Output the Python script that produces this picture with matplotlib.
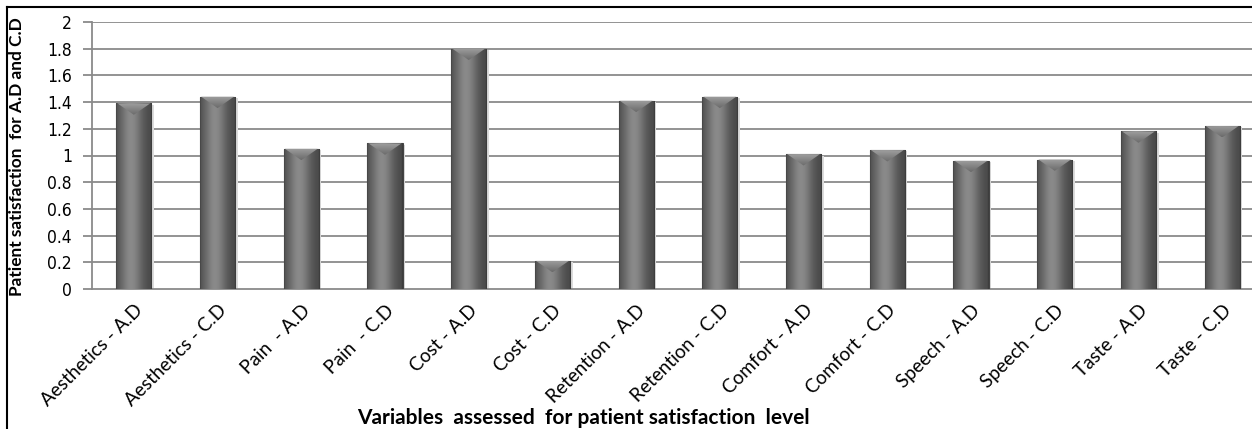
import numpy as np
import matplotlib
matplotlib.use("Agg")
import matplotlib.pyplot as plt
from matplotlib.patches import Polygon, Rectangle

categories = [
    "Aesthetics - A.D", "Aesthetics - C.D", "Pain  - A.D", "Pain  - C.D",
    "Cost - A.D", "Cost - C.D", "Retention - A.D", "Retention - C.D",
    "Comfort - A.D", "Comfort - C.D", "Speech - A.D", "Speech - C.D",
    "Taste - A.D", "Taste - C.D",
]
satisfaction = [1.39, 1.44, 1.05, 1.09, 1.80, 0.21, 1.41, 1.44,
                1.01, 1.04, 0.96, 0.97, 1.18, 1.22]
y_ticks = [0, 0.2, 0.4, 0.6, 0.8, 1, 1.2, 1.4, 1.6, 1.8, 2]
y_tick_labels = ["0", "0.2", "0.4", "0.6", "0.8", "1", "1.2", "1.4", "1.6", "1.8", "2"]

W, H = 1252, 429
fig = plt.figure(figsize=(W / 100, H / 100), dpi=100)
fig.patch.set_facecolor("white")

# plot area runs slightly past the right edge of the canvas
ax = fig.add_axes([92 / W, (H - 289) / H, (1264 - 92) / W, (289 - 22) / H])
ax.set_facecolor("white")

x = np.arange(len(categories))
bar_w = 0.42
ax.set_xlim(-0.5, len(categories) - 0.5)
ax.set_ylim(0, 2)

# horizontal grid
for t in y_ticks[1:]:
    ax.axhline(t, color="#8a8a8a", lw=1.3, zorder=1)

# cylinder-like shading across each bar
grad_x = np.linspace(0, 1, 256)
shade = 0.28 + 0.26 * np.exp(-((grad_x - 0.42) / 0.32) ** 2)
shade[:12] *= np.linspace(0.8, 1, 12)
shade[-12:] *= np.linspace(1, 0.75, 12)
grad = np.tile(shade, (2, 1))

# vertical fade used for the bevelled top
bevel_grad = np.linspace(0.62, 0.42, 32)[:, None] * np.ones((1, 2))

bars = ax.bar(x, satisfaction, width=bar_w, color="#5e5e5e",
              edgecolor="#444444", linewidth=0.8, zorder=3)
for b, v in zip(bars, satisfaction):
    x0 = b.get_x()
    # soft shadow on the right
    ax.add_patch(Rectangle((x0 + bar_w, 0), 0.03, v - 0.01, color="#dcdcdc",
                           lw=0, zorder=2))
    im = ax.imshow(grad, cmap="gray", vmin=0, vmax=1, aspect="auto",
                   extent=(x0, x0 + bar_w, 0, v), zorder=3.5,
                   interpolation="bilinear")
    im.set_clip_path(b)
    # bevelled top
    depth = 0.085
    bevel = Polygon([[x0 + 0.015, v], [x0 + bar_w - 0.015, v],
                     [x0 + bar_w * 0.5, v - depth]], closed=True,
                    facecolor="none", edgecolor="none", zorder=4)
    ax.add_patch(bevel)
    bim = ax.imshow(bevel_grad, cmap="gray", vmin=0, vmax=1, aspect="auto",
                    origin="upper", extent=(x0, x0 + bar_w, v - depth, v),
                    zorder=4, interpolation="bilinear")
    bim.set_clip_path(bevel)

for s in ["top", "right"]:
    ax.spines[s].set_visible(False)
for s in ["left", "bottom"]:
    ax.spines[s].set_color("#8a8a8a")
    ax.spines[s].set_linewidth(1.3)

ax.set_yticks(y_ticks)
ax.set_yticklabels(y_tick_labels, fontsize=12.5, family="DejaVu Sans",
                   fontstretch="condensed")
ax.tick_params(axis="y", direction="out", length=6.5, width=1.3, color="#8a8a8a",
               pad=8)
ax.set_xticks(x)
ax.set_xticklabels(categories, rotation=45, ha="right", rotation_mode="anchor",
                   fontsize=13.7, family="Lato")
ax.tick_params(axis="x", length=0, pad=9)

fig.text(17 / W, 1 - 157 / H, "Patient satisfaction  for A.D and C.D",
         rotation=90, ha="center", va="center", fontsize=12.4,
         fontweight="bold", family="Lato")
fig.text(583 / W, 1 - 418 / H, "Variables  assessed  for patient satisfaction  level",
         ha="center", va="center", fontsize=15, fontweight="bold", family="Lato")

# outer frame (left and top edges visible)
fig.add_artist(plt.Line2D([7 / W, 7 / W], [0, 1 - 7 / H], transform=fig.transFigure,
                          color="black", lw=1.5))
fig.add_artist(plt.Line2D([7 / W, 1], [1 - 7 / H, 1 - 7 / H], transform=fig.transFigure,
                          color="black", lw=1.5))

fig.savefig("out.png", dpi=100, facecolor="white")
